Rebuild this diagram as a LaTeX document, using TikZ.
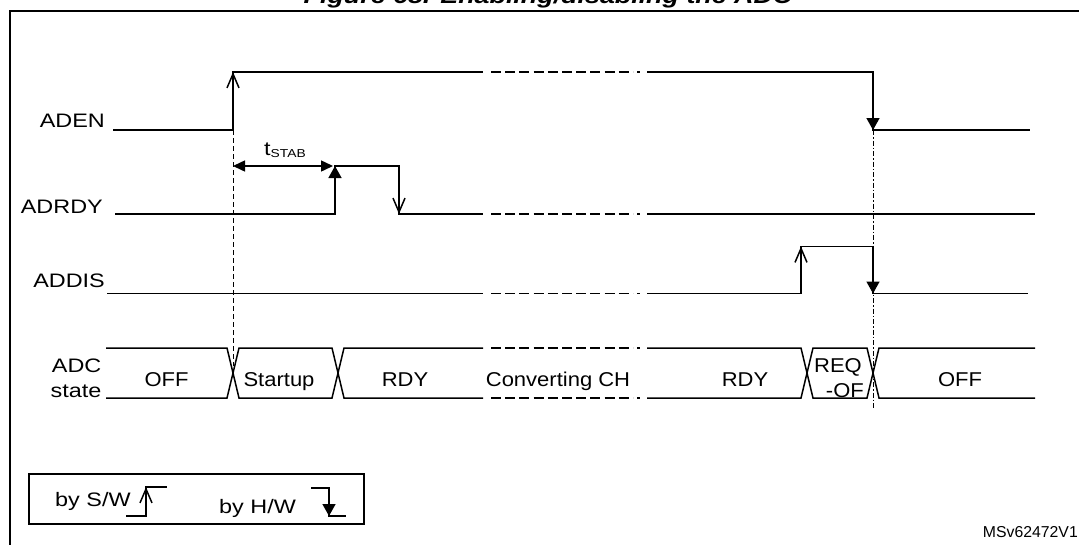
\documentclass[tikz,border=0pt]{standalone}
\usepackage{fontspec}
\setmainfont{Liberation Sans}
\newfontfamily\sigfont{Liberation Sans}[FakeStretch=1.2]
\newfontfamily\stfont{Liberation Sans}[FakeStretch=1.1]
\newfontfamily\ttlfont{Liberation Sans}[FakeStretch=1.22]
\usetikzlibrary{arrows.meta}

\begin{document}
\begin{tikzpicture}[
			x=1pt, y=-1pt,
			sig/.style={line width=1.5pt},
			swedge/.style={-{Straight Barb[length=14pt,width=12pt]}},
			hwedge/.style={-{Triangle[length=12pt,width=13pt]}},
			gap/.style={line width=1.5pt, dash pattern=on 10pt off 4.2pt},
			marker/.style={line width=1pt, dash pattern=on 5pt off 3pt},
			lbl/.style={font=\sigfont\fontsize{19.5}{23}\selectfont, inner sep=0pt},
			state/.style={font=\stfont\fontsize{20}{24}\selectfont, inner sep=0pt, anchor=base},
			ttl/.style={font=\ttlfont\fontsize{22}{26}\selectfont\bfseries\itshape, inner sep=0pt, anchor=base}
			]
			\useasboundingbox (0,0) rectangle (1079,544);
			
			% Frame
			\draw[line width=2pt] (10,550) -- (10,11) -- (1090,11);
			\node[ttl] (title) at (548,3.5) {Figure 68. Enabling/disabling the ADC};
			
			% Nodes
			\node[lbl, anchor=base east] (aden) at (105,127) {ADEN};
			\node[lbl, anchor=base east] (adrdy) at (103,213.5) {ADRDY};
			\node[lbl, anchor=base east] (addis) at (105,287) {ADDIS};
			\node[lbl, anchor=base east] (adc) at (101.6,372) {ADC};
			\node[lbl, anchor=base east] (adcst) at (101.6,397.5) {state};
			\node[lbl, anchor=base west] (tstab) at (264,155) {t\raisebox{-2pt}{\fontsize{11.5}{11.5}\selectfont STAB}};
			
			\node[state] (off1) at (166.5,386) {OFF};
			\node[state] (startup) at (279,386) {Startup};
			\node[state] (rdy1) at (405,386) {RDY};
			\node[state] (conv) at (558,386) {Converting CH};
			\node[state] (rdy2) at (745,386) {RDY};
			\node[state, anchor=base east] (req) at (862,372) {REQ};
			\node[state, anchor=base east] (reqof) at (864,397.5) {-OF};
			\node[state] (off2) at (960,386) {OFF};
			
			% ADEN
			\draw[sig] (113,130) -- (233,130) -- (233,72) -- (483,72);
			\draw[sig] (647,72) -- (873,72) -- (873,130) -- (1030,130);
			\draw[sig, swedge] (233,110) -- (233,72);
			\draw[sig, hwedge] (873,100) -- (873,130);
			
			% ADRDY
			\draw[sig] (115,214) -- (335,214) -- (335,166) -- (399,166) -- (399,214) -- (483,214);
			\draw[sig] (647,214) -- (1035,214);
			\draw[sig, hwedge] (335,190) -- (335,166);
			\draw[sig, swedge] (399,190) -- (399,214);
			\draw[sig, {Triangle[length=12pt,width=11pt]}-{Triangle[length=12pt,width=11pt]}] (233,166) -- (333,166);
			
			% ADDIS
			\draw[sig] (107,293.5) -- (483,293.5);
			\draw[sig] (647,293.5) -- (801,293.5) -- (801,246.5) -- (873,246.5) -- (873,293.5) -- (1028,293.5);
			\draw[sig, swedge] (801,270) -- (801,246.5);
			\draw[sig, hwedge] (873,265) -- (873,293.5);
			
			% ADC state
			\draw[sig] (106,348) -- (227,348) -- (239,398) -- (332,398) -- (344,348) -- (483,348);
			\draw[sig] (106,398) -- (227,398) -- (239,348) -- (332,348) -- (344,398) -- (483,398);
			\draw[sig] (647,348) -- (801,348) -- (813,398) -- (867,398) -- (879,348) -- (1035,348);
			\draw[sig] (647,398) -- (801,398) -- (813,348) -- (867,348) -- (879,398) -- (1035,398);
			
			% broken parts
			\foreach \y in {72,214,293.5,348,398} {
				\draw[gap] (491,\y) -- (633,\y);
				\draw[sig] (637,\y) -- (640,\y);
			}
			
			% markers
			\draw[marker] (233,130) -- (233,366);
			\draw[marker, dash pattern=on 5pt off 2pt on 1.5pt off 2pt] (873,130) -- (873,409);
			
			% Legend
			\draw[line width=1.5pt] (29,474) rectangle (364,524);
			\node[lbl, anchor=base west] (bysw) at (55,506) {by S/W};
			\draw[sig] (126,516) -- (146,516) -- (146,487) -- (167,487);
			\draw[sig, swedge] (146,505) -- (146,487);
			\node[lbl, anchor=base west] (byhw) at (219,513) {by H/W};
			\draw[sig] (311,488) -- (329,488) -- (329,516) -- (346,516);
			\draw[sig, hwedge] (329,500) -- (329,516);
			
			\node[font=\fontsize{15.8}{18}\selectfont, inner sep=0pt, anchor=base east] (ref) at (1078,537) {MSv62472V1};
			
		\end{tikzpicture}
\end{document}
